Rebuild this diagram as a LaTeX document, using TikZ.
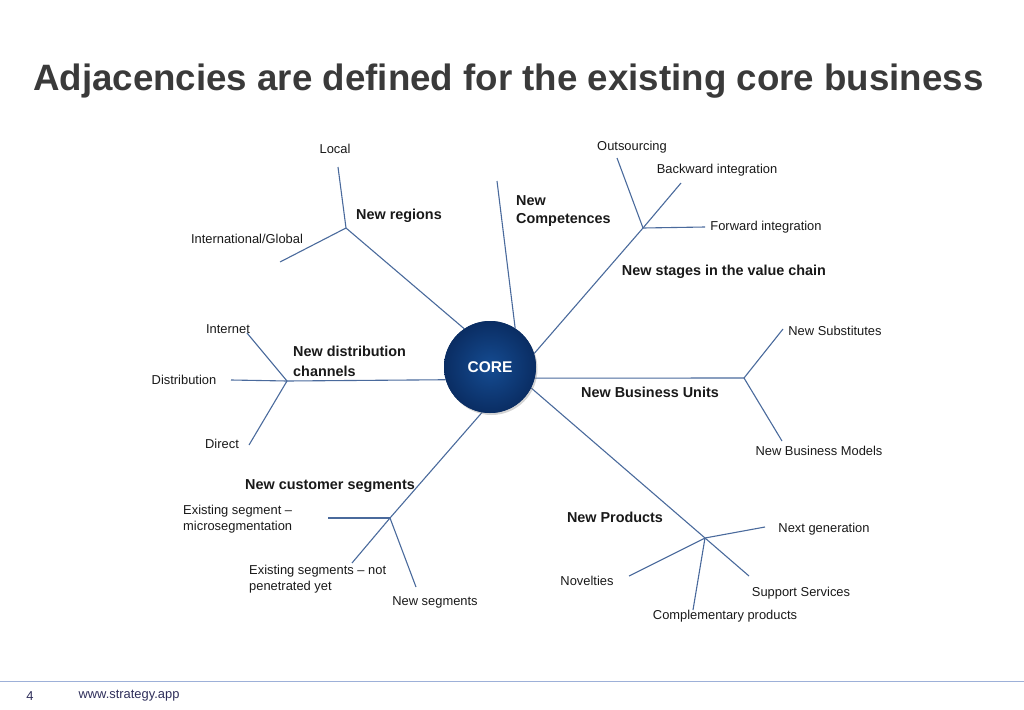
\documentclass[tikz,border=0pt]{standalone}
\usepackage{fontspec}
\setmainfont{Liberation Sans}
\usetikzlibrary{shadows}
\definecolor{linec}{HTML}{4A6A9C}
\definecolor{coreout}{HTML}{0A2D63}
\definecolor{corein}{HTML}{154C92}
\definecolor{titlec}{HTML}{3A3A3A}
\definecolor{footc}{HTML}{2E2E5A}
\definecolor{rulec}{HTML}{9DB0D8}
\tikzset{
  conn/.style={draw=linec, line width=1.1pt},
  lbl/.style={font=\fontsize{12.9}{16}\selectfont, text=black!90, inner sep=0pt, yshift=-1pt},
  blbl/.style={font=\fontsize{14.4}{18}\selectfont\bfseries, text=black!90, inner sep=0pt, yshift=-1pt},
  hub/.style={coordinate}
}
\begin{document}
\begin{tikzpicture}[x=1pt,y=-1pt]
\useasboundingbox (0,0) rectangle (1024,709);
% title
\node[font=\fontsize{36.7}{40}\selectfont\bfseries, text=titlec, anchor=west, inner sep=0pt] (title) at (33,81) {Adjacencies are defined for the existing core business};

% core node (drawn later on top)
\node[circle, minimum size=92pt, inner sep=0pt] (core) at (490,367) {};

% hubs and ends
\coordinate (hreg) at (346,228);
\coordinate (eloc) at (338,167);
\coordinate (eint) at (280,262);
\coordinate (ecomp) at (497,181);
\coordinate (hval) at (643,228);
\coordinate (eout) at (617,158);
\coordinate (ebck) at (681,183);
\coordinate (efwd) at (705,227);
\coordinate (hbu) at (744,378);
\coordinate (esub) at (783,329);
\coordinate (emod) at (782,441);
\coordinate (hprod) at (705,538);
\coordinate (enext) at (765,527);
\coordinate (esup) at (749,576);
\coordinate (ecompl) at (693,610);
\coordinate (enov) at (629,576);
\coordinate (hcs) at (390,518);
\coordinate (eexs) at (328,518);
\coordinate (enp) at (352,563);
\coordinate (enews) at (416,587);
\coordinate (hdist) at (287,381);
\coordinate (einet) at (247,333);
\coordinate (edist) at (231,380);
\coordinate (edir) at (249,445);

% connectors
\draw[conn] (core.124) -- (hreg);
\draw[conn] (hreg) -- (eloc);
\draw[conn] (hreg) -- (eint);
\draw[conn] (core.57) -- (ecomp);
\draw[conn] (core.17) -- (hval);
\draw[conn] (hval) -- (eout);
\draw[conn] (hval) -- (ebck);
\draw[conn] (hval) -- (efwd);
\draw[conn] (core.-14) -- (hbu);
\draw[conn] (hbu) -- (esub);
\draw[conn] (hbu) -- (emod);
\draw[conn] (core.-27) -- (hprod);
\draw[conn] (hprod) -- (enext);
\draw[conn] (hprod) -- (esup);
\draw[conn] (hprod) -- (ecompl);
\draw[conn] (hprod) -- (enov);
\draw[conn] (core.-100) -- (hcs);
\draw[conn] (hcs) -- (eexs);
\draw[conn] (hcs) -- (enp);
\draw[conn] (hcs) -- (enews);
\draw[conn] (core.196) -- (hdist);
\draw[conn] (hdist) -- (einet);
\draw[conn] (hdist) -- (edist);
\draw[conn] (hdist) -- (edir);

% core circle
\fill[coreout, drop shadow={shadow xshift=1.5pt, shadow yshift=-2pt, opacity=0.35}] (core.center) circle (46pt);
\shade[inner color=corein, outer color=coreout] (core.center) circle (46pt);
\node[font=\fontsize{15.5}{18}\selectfont\bfseries, text=white] (coretxt) at (core.center) {CORE};

% branch labels (bold)
\node[blbl] (lreg) at (399,215) {New regions};
\node[blbl, anchor=west, align=left] (lcomp) at (516,210) {New\\Competences};
\node[blbl] (lval) at (724,271) {New stages in the value chain};
\node[blbl] (lbu) at (650,391) {New Business Units};
\node[blbl] (lprod) at (615,516) {New Products};
\node[blbl] (lcs) at (330,485) {New customer segments};
\node[blbl, anchor=west, align=left, font=\fontsize{14.4}{20}\selectfont\bfseries] (ldist) at (293,360) {New distribution\\channels};

% leaf labels
\node[lbl] (tloc) at (335,148) {Local};
\node[lbl] (tint) at (247,238) {International/Global};
\node[lbl] (tout) at (632,146) {Outsourcing};
\node[lbl] (tbck) at (717,169) {Backward integration};
\node[lbl] (tfwd) at (766,226) {Forward integration};
\node[lbl] (tsub) at (835,330) {New Substitutes};
\node[lbl] (tmod) at (819,450) {New Business Models};
\node[lbl] (tnext) at (824,528) {Next generation};
\node[lbl] (tsup) at (801,592) {Support Services};
\node[lbl] (tcompl) at (725,615) {Complementary products};
\node[lbl] (tnov) at (587,580) {Novelties};
\node[lbl, anchor=west, align=left] (texs) at (183,518) {Existing segment --\\microsegmentation};
\node[lbl, anchor=west, align=left] (tnp) at (249,578) {Existing segments -- not\\penetrated yet};
\node[lbl] (tnews) at (435,601) {New segments};
\node[lbl] (tinet) at (228,328) {Internet};
\node[lbl] (tdist) at (184,379) {Distribution};
\node[lbl] (tdir) at (222,443) {Direct};

% footer
\draw[rulec, line width=0.8pt] (0,681) -- (1024,681);
\node[lbl, text=footc] (pnum) at (30,695) {4};
\node[lbl, text=footc] (url) at (129,695) {www.strategy.app};
\end{tikzpicture}
\end{document}
